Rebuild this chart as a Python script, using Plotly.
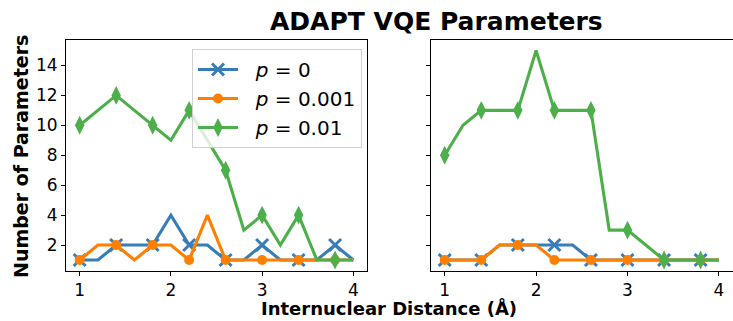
import plotly.graph_objects as go

# ---- data ----
distances = [1.0, 1.2, 1.4, 1.6, 1.8, 2.0, 2.2, 2.4, 2.6, 2.8, 3.0, 3.2, 3.4, 3.6, 3.8, 4.0]

left_p0 = [1, 1, 2, 2, 2, 4, 2, 2, 1, 1, 2, 1, 1, 1, 2, 1]
left_p001 = [1, 2, 2, 1, 2, 2, 1, 4, 1, 1, 1, 1, 1, 1, 1, 1]
left_p01 = [10, 11, 12, 11, 10, 9, 11, 9, 7, 3, 4, 2, 4, 1, 1, 1]

right_p0 = [1, 1, 1, 2, 2, 2, 2, 2, 1, 1, 1, 1, 1, 1, 1, 1]
right_p001 = [1, 1, 1, 2, 2, 2, 1, 1, 1, 1, 1, 1, 1, 1, 1, 1]
right_p01 = [8, 10, 11, 11, 11, 15, 11, 11, 11, 3, 3, 2, 1, 1, 1, 1]

series_names = ["&nbsp;&nbsp;<i>p</i> = 0", "&nbsp;&nbsp;<i>p</i> = 0.001", "&nbsp;&nbsp;<i>p</i> = 0.01"]
y_ticks = [2, 4, 6, 8, 10, 12, 14]
x_ticks = [1, 2, 3, 4]

# ---- styles ----
colors = ["#377eb8", "#ff7f00", "#4daf4a"]
symbols = ["x-thin", "circle", "diamond-tall"]
msizes = [12, 10, 13.5]
FONT = "DejaVu Sans"
W, H = 733, 321
LW = 3.1

fig = go.Figure()


def marker_style(i):
    m = dict(symbol=symbols[i], size=msizes[i], color=colors[i])
    if symbols[i] == "x-thin":
        m["line"] = dict(color=colors[i], width=3)
    else:
        m["line"] = dict(width=0)
    return m


panels = [("x", "y", [left_p0, left_p001, left_p01]),
          ("x2", "y2", [right_p0, right_p001, right_p01])]

for xa, ya, data in panels:
    for i, vals in enumerate(data):
        fig.add_trace(go.Scatter(x=distances, y=vals, mode="lines",
                                 line=dict(color=colors[i], width=LW),
                                 xaxis=xa, yaxis=ya, showlegend=False,
                                 hoverinfo="skip", cliponaxis=False))
        fig.add_trace(go.Scatter(x=distances[::2], y=vals[::2], mode="markers",
                                 marker=marker_style(i),
                                 xaxis=xa, yaxis=ya, showlegend=False,
                                 hoverinfo="skip", cliponaxis=False))

# legend entries
for i, name in enumerate(series_names):
    fig.add_trace(go.Scatter(x=[None], y=[None], mode="lines+markers", name=name,
                             line=dict(color=colors[i], width=LW),
                             marker=marker_style(i), xaxis="x", yaxis="y"))

x0L, x1L = 66 / W, 367 / W
x0R, x1R = 431 / W, 732.6 / W
yb, yt = 1 - 270.5 / H, 1 - 40 / H

axis_common = dict(showline=True, linecolor="black", linewidth=1, mirror=True,
                   ticks="outside", ticklen=4, tickwidth=1, tickcolor="black",
                   showgrid=False, zeroline=False,
                   tickfont=dict(family=FONT, size=17, color="black"))

fig.update_layout(
    width=W, height=H, margin=dict(l=0, r=0, t=0, b=0),
    plot_bgcolor="white", paper_bgcolor="white",
    xaxis=dict(domain=[x0L, x1L], range=[0.85, 4.15], tickvals=x_ticks, anchor="y", **axis_common),
    yaxis=dict(domain=[yb, yt], range=[0.3, 15.7], tickvals=y_ticks, anchor="x", **axis_common),
    xaxis2=dict(domain=[x0R, x1R], range=[0.85, 4.15], tickvals=x_ticks, anchor="y2", **axis_common),
    yaxis2=dict(domain=[yb, yt], range=[0.3, 15.7], tickvals=y_ticks, anchor="x2",
                showticklabels=False, **axis_common),
    legend=dict(x=192 / W, y=1 - 49 / H, xanchor="left", yanchor="top",
                bgcolor="rgba(255,255,255,0.8)", bordercolor="#d0d0d0", borderwidth=1,
                font=dict(family=FONT, size=20, color="black"), itemwidth=40),
    showlegend=True,
    annotations=[
        dict(text="<b>ADAPT VQE Parameters</b>", x=436.5 / W, y=1 - 21 / H,
             xref="paper", yref="paper", xanchor="center", yanchor="middle",
             showarrow=False, font=dict(family=FONT, size=25, color="black")),
        dict(text="<b>Internuclear Distance (Å)</b>", x=388.5 / W, y=0,
             xref="paper", yref="paper", xanchor="center", yanchor="bottom",
             showarrow=False, font=dict(family=FONT, size=18, color="black")),
        dict(text="<b>Number of Parameters</b>", x=21 / W, y=1 - 157 / H,
             xref="paper", yref="paper", xanchor="center", yanchor="middle",
             textangle=-90, showarrow=False, font=dict(family=FONT, size=19, color="black")),
    ],
)

fig.write_html("out.html")
